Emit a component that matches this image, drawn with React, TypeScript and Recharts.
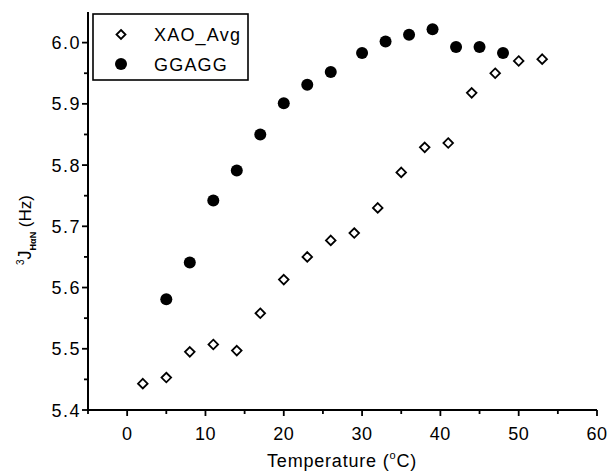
import React from 'react';
import { ScatterChart, Scatter, XAxis, YAxis } from 'recharts';

// XAO_Avg (open diamonds)
const xaoTemp = [2, 5, 8, 11, 14, 17, 20, 23, 26, 29, 32, 35, 38, 41, 44, 47, 50, 53];
const xaoJ = [5.443, 5.453, 5.495, 5.507, 5.497, 5.558, 5.613, 5.65, 5.677, 5.689, 5.73, 5.788, 5.829, 5.836, 5.918, 5.95, 5.97, 5.973];

// GGAGG (filled circles)
const ggTemp = [5, 8, 11, 14, 17, 20, 23, 26, 30, 33, 36, 39, 42, 45, 48];
const ggJ = [5.581, 5.641, 5.742, 5.791, 5.85, 5.901, 5.931, 5.952, 5.983, 6.002, 6.013, 6.022, 5.993, 5.993, 5.983];

const xTicks = [-5, 0, 5, 10, 15, 20, 25, 30, 35, 40, 45, 50, 55, 60];
const yTicks = [5.4, 5.45, 5.5, 5.55, 5.6, 5.65, 5.7, 5.75, 5.8, 5.85, 5.9, 5.95, 6.0];

const FONT = 'Arial, "Liberation Sans", Helvetica, sans-serif';

const xaoData = xaoTemp.map((t, i) => ({ t, j: xaoJ[i] }));
const ggData = ggTemp.map((t, i) => ({ t, j: ggJ[i] }));

const Diamond = (props: any) => {
  const { cx, cy } = props;
  const r = 4.8;
  return (
    <path
      d={`M${cx},${cy - r}L${cx + r},${cy}L${cx},${cy + r}L${cx - r},${cy}Z`}
      fill="#fff"
      stroke="#000"
      strokeWidth={1.8}
    />
  );
};

const Dot = (props: any) => {
  const { cx, cy } = props;
  return <circle cx={cx} cy={cy} r={6} fill="#000" />;
};

const XTick = (props: any) => {
  const { x, y, payload } = props;
  const major = payload.value % 10 === 0;
  return (
    <g>
      <line x1={x} x2={x} y1={y} y2={y + (major ? 6 : 4)} stroke="#000" strokeWidth={1.8} />
      {major && payload.value >= 0 && (
        <text x={x} y={y + 30} textAnchor="middle" fontSize={18} fontFamily={FONT} fill="#000" letterSpacing={0.5}>
          {payload.value}
        </text>
      )}
    </g>
  );
};

const YTick = (props: any) => {
  const { x, y, payload } = props;
  const major = Math.round(payload.value * 100) % 10 === 0;
  return (
    <g>
      <line x1={x - (major ? 6 : 4)} x2={x} y1={y} y2={y} stroke="#000" strokeWidth={1.8} />
      {major && (
        <text x={x - 7} y={y + 6.5} textAnchor="end" fontSize={18} fontFamily={FONT} fill="#000" letterSpacing={1.5}>
          {payload.value.toFixed(1)}
        </text>
      )}
    </g>
  );
};

const YLabel = () => (
  <text
    transform="translate(31,230) rotate(-90)"
    textAnchor="middle"
    fontFamily={FONT}
    fill="#000"
    fontSize={17}
  >
    <tspan fontSize={10} dy={-7}>3</tspan>
    <tspan fontSize={18} dy={7}>J</tspan>
    <tspan fontSize={9} fontWeight="bold" dy={5}>HαN</tspan>
    <tspan fontSize={17} dy={-5}> (Hz)</tspan>
  </text>
);

const XLabel = () => (
  <text x={342} y={467} textAnchor="middle" fontFamily={FONT} fontSize={18} fill="#000" letterSpacing={0.8}>
    Temperature (
    <tspan fontSize={11} dy={-8}>o</tspan>
    <tspan dy={8}>C)</tspan>
  </text>
);

const LegendBox = () => (
  <svg width={157} height={68} style={{ display: 'block' }}>
    <rect x={1} y={1} width={155} height={66} fill="#fff" stroke="#000" strokeWidth={1.6} />
    <path d="M29,17L33.5,21.5L29,26L24.5,21.5Z" fill="#fff" stroke="#000" strokeWidth={1.8} />
    <text x={62} y={28} fontSize={18} fontFamily={FONT} letterSpacing={1.2} fill="#000">XAO_Avg</text>
    <circle cx={29} cy={51} r={6} fill="#000" />
    <text x={62} y={58} fontSize={18} fontFamily={FONT} letterSpacing={1.2} fill="#000">GGAGG</text>
  </svg>
);

export default function App() {
  return (
    <div style={{ position: 'absolute', left: 0, top: 0, width: 612, height: 472, background: '#fff' }}>
      <ScatterChart width={612} height={472} margin={{ top: 12, right: 15, bottom: 0, left: 0 }}>
        <XAxis
          type="number"
          dataKey="t"
          domain={[-5, 60]}
          ticks={xTicks}
          interval={0}
          height={62}
          tickSize={0}
          tickMargin={0}
          tickLine={false}
          tick={<XTick />}
          axisLine={{ stroke: '#000', strokeWidth: 2 }}
          label={<XLabel />}
        />
        <YAxis
          type="number"
          dataKey="j"
          domain={[5.4, 6.05]}
          ticks={yTicks}
          interval={0}
          width={88}
          tickSize={0}
          tickMargin={0}
          tickLine={false}
          tick={<YTick />}
          axisLine={{ stroke: '#000', strokeWidth: 2 }}
          label={<YLabel />}
        />
        <Scatter name="XAO_Avg" data={xaoData} shape={<Diamond />} isAnimationActive={false} />
        <Scatter name="GGAGG" data={ggData} shape={<Dot />} isAnimationActive={false} />
      </ScatterChart>
      <div style={{ position: 'absolute', left: 92, top: 13 }}>
        <LegendBox />
      </div>
    </div>
  );
}
